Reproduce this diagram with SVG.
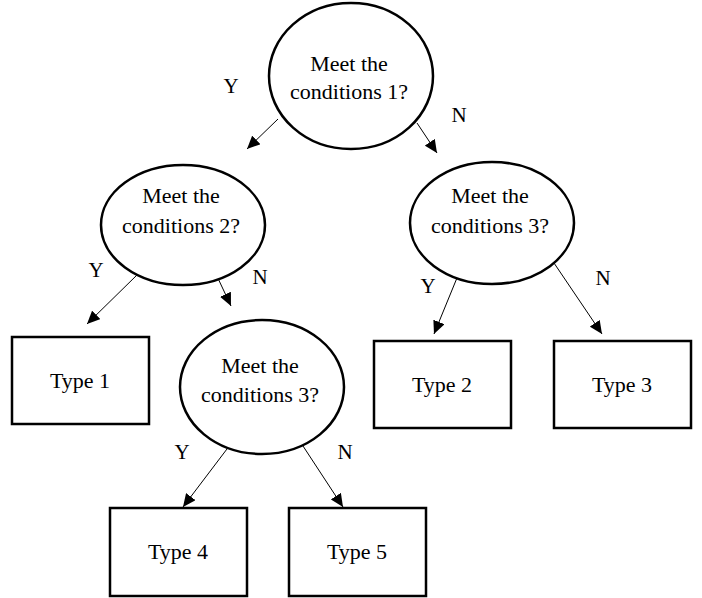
<svg xmlns="http://www.w3.org/2000/svg" width="702" height="598" viewBox="0 0 702 598">
<defs>
<style>
.n{fill:#fff;stroke:#000;stroke-width:2.5}
.t{font-family:"Liberation Serif","Times New Roman",serif;font-size:22px;fill:#000;text-anchor:middle}
.l{font-family:"Liberation Serif","Times New Roman",serif;font-size:21px;fill:#000;text-anchor:middle}
.c{stroke:#000;stroke-width:1;fill:none;marker-end:url(#ah)}
</style>
<marker id="ah" markerWidth="14" markerHeight="12" refX="13" refY="6" orient="auto" markerUnits="userSpaceOnUse">
<path d="M0,0 L13,6 L0,12 Z" fill="#000"/>
</marker>
</defs>
<rect width="702" height="598" fill="#fff"/>
<g id="connectors">
<line class="c" x1="278" y1="119" x2="247" y2="149"/>
<line class="c" x1="417" y1="123" x2="437" y2="153"/>
<line class="c" x1="138" y1="274" x2="87" y2="324"/>
<line class="c" x1="215" y1="272" x2="231" y2="306"/>
<line class="c" x1="459" y1="273" x2="434" y2="334"/>
<line class="c" x1="554" y1="263" x2="602" y2="334"/>
<line class="c" x1="230" y1="445" x2="183" y2="507"/>
<line class="c" x1="303" y1="446" x2="343" y2="507"/>
<text class="l" x="231" y="93">Y</text>
<text class="l" x="459" y="122">N</text>
<text class="l" x="96" y="277">Y</text>
<text class="l" x="260" y="284">N</text>
<text class="l" x="428" y="293">Y</text>
<text class="l" x="603" y="285">N</text>
<text class="l" x="182" y="459">Y</text>
<text class="l" x="345" y="459">N</text>
</g>
<g id="q1">
<ellipse class="n" cx="351" cy="76" rx="82" ry="73"/>
<text class="t" x="349" y="71">Meet the</text>
<text class="t" x="349" y="99">conditions 1?</text>
</g>
<g id="q2">
<ellipse class="n" cx="183" cy="225" rx="82" ry="60"/>
<text class="t" x="181" y="203">Meet the</text>
<text class="t" x="181" y="233">conditions 2?</text>
</g>
<g id="q3r">
<ellipse class="n" cx="492" cy="223" rx="82" ry="61"/>
<text class="t" x="490" y="203">Meet the</text>
<text class="t" x="490" y="233">conditions 3?</text>
</g>
<g id="q3l">
<ellipse class="n" cx="262" cy="387" rx="82" ry="67"/>
<text class="t" x="260" y="373">Meet the</text>
<text class="t" x="260" y="402">conditions 3?</text>
</g>
<g id="type1">
<rect class="n" x="12" y="337" width="137" height="87"/>
<text class="t" x="80" y="388">Type 1</text>
</g>
<g id="type2">
<rect class="n" x="374" y="341" width="137" height="87"/>
<text class="t" x="442" y="392">Type 2</text>
</g>
<g id="type3">
<rect class="n" x="554" y="341" width="137" height="87"/>
<text class="t" x="622" y="392">Type 3</text>
</g>
<g id="type4">
<rect class="n" x="110" y="508" width="137" height="88"/>
<text class="t" x="178" y="559">Type 4</text>
</g>
<g id="type5">
<rect class="n" x="289" y="508" width="137" height="88"/>
<text class="t" x="357" y="559">Type 5</text>
</g>
</svg>
